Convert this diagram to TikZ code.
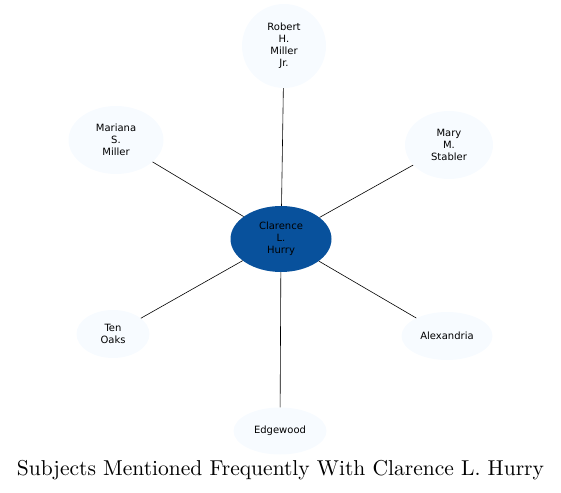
\documentclass[tikz,border=0pt]{standalone}
\usepackage{fontspec}
\newfontfamily\nodefont{DejaVu Sans}
\usepackage{tikz}
\usetikzlibrary{shapes.geometric}

\definecolor{lightblue}{HTML}{F7FBFF}
\definecolor{darkblue}{HTML}{08519C}

\begin{document}
\begin{tikzpicture}[x=1pt, y=1pt,
    subject/.style={ellipse, fill=lightblue, inner sep=0pt, align=center,
        font=\nodefont\fontsize{10}{12}\selectfont},
    main/.style={subject, fill=darkblue},
    link/.style={draw=black, line width=0.6pt}]
    \useasboundingbox (0,0) rectangle (561,492);

    \node[main, minimum width=101pt, minimum height=66pt] (hurry) at (281,253) {Clarence\\L.\\Hurry};
    \node[subject, minimum width=84pt, minimum height=84pt] (robert) at (284,446) {Robert\\H.\\Miller\\Jr.};
    \node[subject, minimum width=95pt, minimum height=68pt] (mariana) at (116,352) {Mariana\\S.\\Miller};
    \node[subject, minimum width=88pt, minimum height=68pt] (mary) at (449,347) {Mary\\M.\\Stabler};
    \node[subject, minimum width=73pt, minimum height=48pt] (tenoaks) at (113,158) {Ten\\Oaks};
    \node[subject, minimum width=91pt, minimum height=48pt] (alexandria) at (447,156) {Alexandria};
    \node[subject, minimum width=93pt, minimum height=47pt] (edgewood) at (280,61) {Edgewood};

    \draw[link] (hurry) -- (robert);
    \draw[link] (hurry) -- (mariana);
    \draw[link] (hurry) -- (mary);
    \draw[link] (hurry) -- (tenoaks);
    \draw[link] (hurry) -- (alexandria);
    \draw[link] (hurry) -- (edgewood);

    \node[font=\fontsize{10}{12}\selectfont, inner sep=0pt] (title) at (280.5,22)
        {\resizebox{527pt}{!}{Subjects Mentioned Frequently With Clarence L. Hurry}};
\end{tikzpicture}
\end{document}
